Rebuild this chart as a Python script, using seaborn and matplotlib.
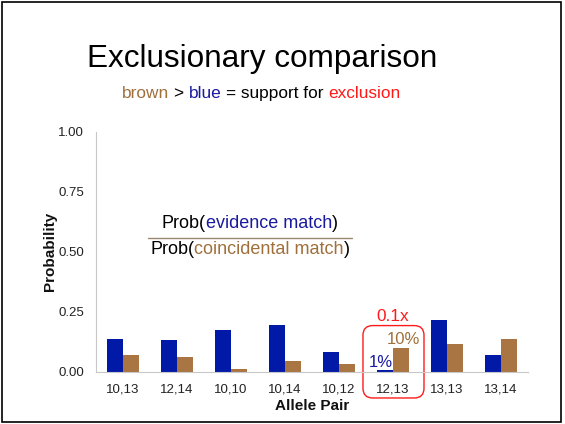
import numpy as np
import pandas as pd
import matplotlib.pyplot as plt
import seaborn as sns
from matplotlib.patches import FancyBboxPatch, Rectangle
from matplotlib.lines import Line2D

# data
pairs = ["10,13", "12,14", "10,10", "10,14", "10,12", "12,13", "13,13", "13,14"]
evidence = [0.137, 0.132, 0.175, 0.197, 0.082, 0.010, 0.216, 0.072]
coincidental = [0.072, 0.061, 0.012, 0.046, 0.033, 0.100, 0.118, 0.139]

blue = "#0019a6"
brown = "#a87543"
red = "#ff1a1a"
text_blue = "#1a1aa0"
text_brown = "#a0703c"

df = pd.DataFrame({
    "pair": pairs * 2,
    "prob": evidence + coincidental,
    "source": ["evidence"] * len(pairs) + ["coincidental"] * len(pairs),
})

sns.set_theme(style="white")
plt.rcParams["font.family"] = ["Liberation Sans", "DejaVu Sans"]

fig = plt.figure(figsize=(5.65, 4.24), dpi=100)
ax = fig.add_axes([96 / 565, 1 - 372 / 424, 432 / 565, 240.5 / 424])

sns.barplot(data=df, x="pair", y="prob", hue="source", palette=[blue, brown],
            width=0.6, gap=0, saturation=1, legend=False, linewidth=0, ax=ax)

ax.set_xlim(-0.5, 7.5)
ax.set_ylim(0, 1)
ax.set_yticks([0, 0.25, 0.5, 0.75, 1.0])
ax.set_yticklabels(["0.00", "0.25", "0.50", "0.75", "1.00"])
ax.set_xticks(np.arange(-0.5, 8, 1), minor=True)
ax.tick_params(axis="x", which="major", length=0, pad=8, labelsize=9.5, colors="#222222")
ax.tick_params(axis="x", which="minor", length=3, width=0.8, color="#c8c8c8", direction="out")
ax.tick_params(axis="y", length=3, width=0.8, color="#c8c8c8", pad=5.6, labelsize=9.5,
               labelcolor="#222222", direction="out")
sns.despine(ax=ax)
for side in ["left", "bottom"]:
    ax.spines[side].set_color("#c8c8c8")
    ax.spines[side].set_linewidth(0.8)

ax.set_xlabel("Allele Pair", fontsize=11, fontweight="bold", color="#111111")
ax.set_ylabel("Probability", fontsize=11, fontweight="bold", color="#111111")
ax.xaxis.set_label_coords(0.5, (372 - 399) / 240.5)
ax.yaxis.set_label_coords((57 - 96) / 432, 0.5)

renderer = fig.canvas.get_renderer()


def colored_line(x_center, y, parts, size):
    # lay out coloured pieces side by side, centred on x_center (figure coords)
    probe1 = fig.text(0, 0, "x x", fontsize=size)
    probe2 = fig.text(0, 0, "xx", fontsize=size)
    space = (probe1.get_window_extent(renderer).width - probe2.get_window_extent(renderer).width)
    probe1.remove()
    probe2.remove()
    items = []
    for s, c in parts:
        lead = len(s) - len(s.lstrip(" "))
        trail = len(s) - len(s.rstrip(" "))
        t = fig.text(0, y, s.strip(" "), color=c, fontsize=size, va="baseline")
        w = t.get_window_extent(renderer).width
        items.append((t, lead * space, w, trail * space))
    total = sum(a + b + c for _, a, b, c in items)
    x = x_center * 565 - total / 2
    for t, a, w, b in items:
        x += a
        t.set_x(x / 565)
        x += w + b


fig.text(262.5 / 565, 1 - 67 / 424, "Exclusionary comparison", fontsize=22.7,
         ha="center", va="baseline", color="black")
colored_line(261 / 565, 1 - 98 / 424,
             [("brown", text_brown), (" > ", "black"), ("blue", text_blue),
              (" = support for ", "black"), ("exclusion", red)], 12.4)

# ratio annotation
colored_line(250 / 565, 1 - 228.5 / 424,
             [("Prob(", "black"), ("evidence match", text_blue), (")", "black")], 13)
colored_line(250 / 565, 1 - 254 / 424,
             [("Prob(", "black"), ("coincidental match", text_brown), (")", "black")], 13)
fig.add_artist(Line2D([148 / 565, 352 / 565], [1 - 237.5 / 424] * 2,
                      color="#9c8870", linewidth=1.0))

# highlight for 12,13
ax.text(5, 0.21, "0.1x", color=red, fontsize=12.4, ha="center", va="baseline")
ax.text(5.2, 0.117, "10%", color=text_brown, fontsize=12, ha="center", va="baseline")
ax.text(4.78, 0.022, "1%", color=text_blue, fontsize=12, ha="center", va="baseline")
box = FancyBboxPatch((4.444, -0.108), 1.13, 0.301,
                     boxstyle="round,pad=0,rounding_size=0.18",
                     mutation_aspect=54 / 240.5, fill=False, edgecolor=red,
                     linewidth=1.0, clip_on=False)
ax.add_patch(box)

# slide frame
fig.add_artist(Rectangle((2 / 565, 2 / 424), 559 / 565, 420 / 424,
                         transform=fig.transFigure, fill=False,
                         edgecolor="black", linewidth=1.2))

fig.savefig("out.png", dpi=100)
